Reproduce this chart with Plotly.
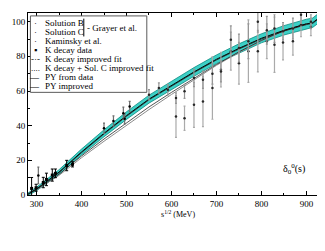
import plotly.graph_objects as go

# ---------------- data ----------------
curve_x = [280, 300, 350, 400, 450, 500, 550, 600, 650, 700, 750, 800, 850, 900, 914, 930, 940, 950]
py_data = [0.3, 3.5, 13.2, 24.8, 35.6, 45.8, 55.3, 63.4, 71.0, 78.3, 84.6, 90.4, 95.0, 98.7, 99.4, 102.6, 105.5, 108.5]
py_impr = [0.2, 3.3, 12.9, 24.4, 35.2, 45.4, 54.9, 63.0, 70.6, 77.9, 84.2, 90.0, 94.6, 98.3, 99.0, 102.2, 105.1, 108.1]
band_half = [0.7, 1.0, 1.4, 1.7, 2.0, 2.2, 2.3, 2.4, 2.5, 2.5, 2.6, 2.6, 2.7, 2.7, 2.7, 2.8, 2.8, 2.8]

kfit_x = [285, 300, 350, 400, 450, 500, 550, 600, 650, 700, 750, 800, 850, 900]
kdecay_fit = [1.5, 3.3, 12.0, 22.5, 32.3, 41.8, 50.8, 59.2, 67.3, 75.3, 82.6, 89.2, 94.8, 98.8]
kdecay_solc = [1.4, 3.0, 11.3, 21.5, 31.0, 40.3, 49.3, 58.0, 66.5, 74.8, 82.3, 89.0, 94.6, 98.6]

kdec_x = [289, 299, 315, 322, 335, 342, 367, 380]
kdec_y = [3.8, 4.2, 7.2, 9.0, 11.5, 12.5, 17.0, 17.7]
kdec_e = [6.3, 2.0, 3.0, 3.6, 3.5, 2.5, 3.0, 1.5]

kam_x = [304, 450, 471, 493, 496, 507]
kam_y = [11.3, 38.5, 42.7, 47.2, 44.0, 51.0]
kam_e = [4.8, 3.0, 3.0, 3.5, 3.0, 3.0]

solb_x = [550, 572, 592, 610, 629, 650, 670, 691, 710, 732, 750, 771, 792, 812, 829, 848, 870, 888, 910]
solb_y = [57.8, 61.7, 60.7, 55.9, 59.8, 67.5, 66.5, 70.0, 71.3, 89.6, 84.8, 88.7, 100.0, 95.0, 96.0, 94.5, 96.0, 104.0, 100.0]
solb_e = [3.0, 3.0, 3.0, 3.0, 4.0, 5.0, 5.0, 6.0, 6.0, 8.0, 8.0, 10.0, 6.0, 8.0, 8.0, 5.0, 6.0, 5.0, 4.0]

solc_x = [610, 629, 650, 670, 691, 710, 732, 750, 771, 792, 812, 829, 848, 870, 888, 910]
solc_y = [45.3, 44.3, 52.0, 54.0, 61.7, 72.3, 83.0, 76.0, 83.0, 83.0, 88.7, 86.7, 88.0, 88.7, 98.3, 97.0]
solc_e = [12.0, 7.0, 13.0, 14.5, 18.0, 10.0, 11.0, 12.0, 18.0, 12.0, 10.0, 16.0, 10.0, 8.0, 7.0, 5.0]

legend_labels = ["Solution B", "Solution C", "Kaminsky et al.", "K decay data",
                 "K decay improved fit", "K decay + Sol. C improved fit",
                 "PY from data", "PY improved"]
legend_marks = ["\u00b7", "\u00b7", "\u00b7", "\u25aa", "-\u00b7-", "....", "\u2014", "\u2014"]
group_label = "- Grayer et al."

x_ticks = [300, 400, 500, 600, 700, 800, 900]
y_ticks = [0, 20, 40, 60, 80, 100]

FONT = "Liberation Serif, Times New Roman, serif"
TEAL = "rgb(60,208,198)"
TEAL_EDGE = "rgb(15,140,130)"

fig = go.Figure()

upper = [c + h for c, h in zip(py_data, band_half)]
lower = [c - h for c, h in zip(py_data, band_half)]
fig.add_trace(go.Scatter(x=curve_x, y=lower, mode="lines",
                         line=dict(color=TEAL_EDGE, width=0.8), showlegend=False))
fig.add_trace(go.Scatter(x=curve_x, y=upper, mode="lines", fill="tonexty",
                         fillcolor=TEAL, line=dict(color=TEAL_EDGE, width=0.8), showlegend=False))

fig.add_trace(go.Scatter(x=kfit_x, y=kdecay_solc, mode="lines",
                         line=dict(color="rgb(140,140,140)", width=1), showlegend=False))
fig.add_trace(go.Scatter(x=kfit_x, y=kdecay_fit, mode="lines",
                         line=dict(color="rgb(40,40,40)", width=0.8), showlegend=False))

fig.add_trace(go.Scatter(x=curve_x, y=py_data, mode="lines",
                         line=dict(color="black", width=1), showlegend=False))
fig.add_trace(go.Scatter(x=curve_x, y=py_impr, mode="lines",
                         line=dict(color="rgb(30,30,30)", width=0.8), showlegend=False))

fig.add_trace(go.Scatter(x=solc_x, y=solc_y, mode="markers",
                         marker=dict(color="rgb(40,40,40)", size=2.5, symbol="circle"),
                         error_y=dict(type="data", array=solc_e, color="rgb(170,170,170)",
                                      thickness=1.2, width=1),
                         showlegend=False))
fig.add_trace(go.Scatter(x=solb_x, y=solb_y, mode="markers",
                         marker=dict(color="rgb(40,40,40)", size=2.5, symbol="circle"),
                         error_y=dict(type="data", array=solb_e, color="rgb(150,150,150)",
                                      thickness=1.2, width=1),
                         showlegend=False))
fig.add_trace(go.Scatter(x=kam_x, y=kam_y, mode="markers",
                         marker=dict(color="black", size=2.5, symbol="circle"),
                         error_y=dict(type="data", array=kam_e, color="rgb(110,110,110)",
                                      thickness=1.2, width=1),
                         showlegend=False))
fig.add_trace(go.Scatter(x=kdec_x, y=kdec_y, mode="markers",
                         marker=dict(color="black", size=3, symbol="square"),
                         error_y=dict(type="data", array=kdec_e, color="black",
                                      thickness=1, width=1.5),
                         showlegend=False))

# manual legend
shapes = [dict(type="rect", xref="paper", yref="paper", x0=0.008, x1=0.396, y0=0.564, y1=0.984,
               line=dict(color="rgb(90,90,90)", width=1), fillcolor="white", layer="above")]
annotations = []
row_top = 0.945
row_step = 0.0498
for i, (lab, mk) in enumerate(zip(legend_labels, legend_marks)):
    yy = row_top - i * row_step
    if i < 4:
        annotations.append(dict(xref="paper", yref="paper", x=0.026, y=yy, xanchor="center", yanchor="middle",
                                text=mk, showarrow=False, font=dict(family=FONT, size=9, color="black")))
    else:
        annotations.append(dict(xref="paper", yref="paper", x=0.048, y=yy, xanchor="right", yanchor="middle",
                                text=mk, showarrow=False, font=dict(family=FONT, size=9, color="black")))
    annotations.append(dict(xref="paper", yref="paper", x=0.050, y=yy, xanchor="left", yanchor="middle",
                            text=lab, showarrow=False, font=dict(family=FONT, size=9, color="black")))
# bracket for Grayer et al.
shapes.append(dict(type="line", xref="paper", yref="paper", x0=0.186, x1=0.186,
                   y0=row_top - row_step - 0.024, y1=row_top + 0.024,
                   line=dict(color="black", width=1), layer="above"))
annotations.append(dict(xref="paper", yref="paper", x=0.190, y=row_top - row_step / 2,
                        xanchor="left", yanchor="middle", text=group_label, showarrow=False,
                        font=dict(family=FONT, size=9, color="black")))

annotations.append(dict(xref="x", yref="y", x=872, y=15, xanchor="center", yanchor="middle",
                        text="\u03b4<sub>0</sub><sup>0</sup>(s)", showarrow=False,
                        font=dict(family=FONT, size=10, color="black")))
annotations.append(dict(xref="paper", yref="paper", x=0.5, y=-0.068, xanchor="center", yanchor="top",
                        text="s<sup>1/2</sup> (MeV)", showarrow=False,
                        font=dict(family=FONT, size=8, color="black")))

fig.update_layout(
    width=325, height=251,
    margin=dict(l=15, r=4, t=5, b=64),
    paper_bgcolor="white", plot_bgcolor="white",
    showlegend=False,
    shapes=shapes, annotations=annotations,
    font=dict(family=FONT, size=9, color="black"),
)
fig.update_xaxes(range=[281, 948], tickvals=x_ticks, ticks="inside", ticklen=4,
                 showgrid=False, zeroline=False, showline=True, linecolor="black", linewidth=1,
                 mirror="allticks", tickcolor="black",
                 minor=dict(dtick=50, tick0=250, ticks="inside", ticklen=2, tickcolor="black", showgrid=False),
                 tickfont=dict(family=FONT, size=9))
fig.update_yaxes(range=[0, 105], tickvals=y_ticks, ticks="inside", ticklen=4,
                 showgrid=False, zeroline=False, showline=True, linecolor="black", linewidth=1,
                 mirror="allticks", tickcolor="black",
                 minor=dict(dtick=10, tick0=0, ticks="inside", ticklen=2, tickcolor="black", showgrid=False),
                 tickfont=dict(family=FONT, size=9))

fig.write_html("out.html")
